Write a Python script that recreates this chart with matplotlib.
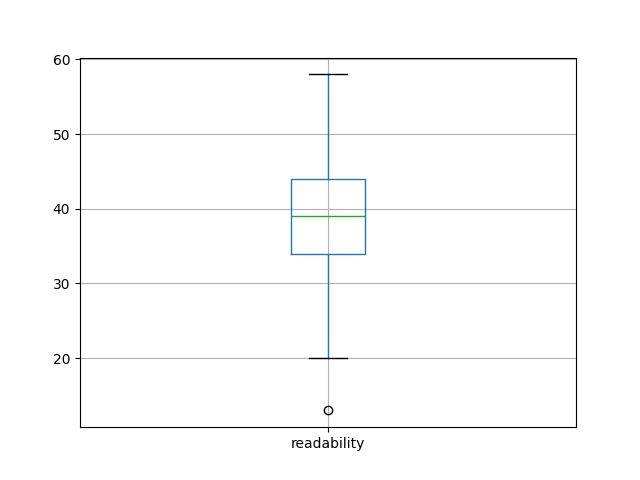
import matplotlib
matplotlib.use('Agg')
import matplotlib.pyplot as plt

# summary statistics
labels = ['readability']
whisker_low = [20]
q1 = [34]
median = [39]
q3 = [44]
whisker_high = [58]
outliers = [[13]]

stats = []
for i, lab in enumerate(labels):
    stats.append({
        'label': lab,
        'whislo': whisker_low[i],
        'q1': q1[i],
        'med': median[i],
        'q3': q3[i],
        'whishi': whisker_high[i],
        'fliers': outliers[i],
    })

fig, ax = plt.subplots(figsize=(6.4, 4.8), dpi=100)
ax.bxp(stats, widths=0.15,
       boxprops=dict(color='#1f77b4'),
       whiskerprops=dict(color='#1f77b4'),
       medianprops=dict(color='#2ca02c'),
       capprops=dict(color='k'),
       flierprops=dict(marker='o', markerfacecolor='none', markeredgecolor='k'))
ax.grid(True)
fig.savefig('out.png')
